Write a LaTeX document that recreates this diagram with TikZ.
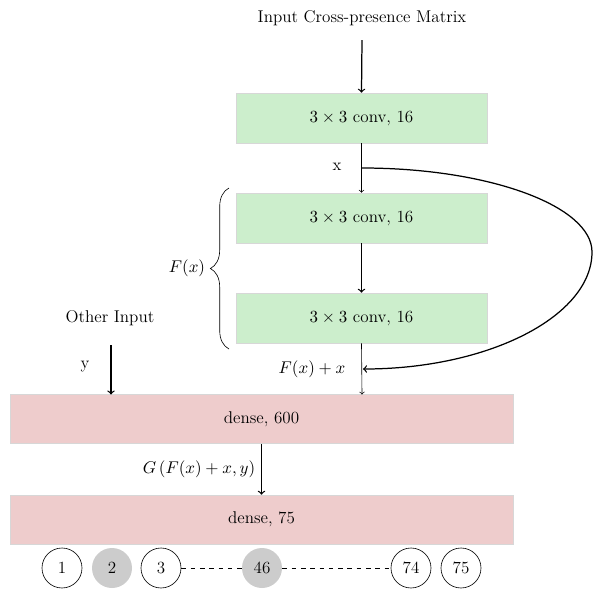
\documentclass[tikz,border=0pt]{standalone}
\usetikzlibrary{decorations.pathreplacing}
\definecolor{convgreen}{RGB}{204,238,204}
\definecolor{densered}{RGB}{238,204,204}
\definecolor{boxborder}{RGB}{215,215,215}
\definecolor{circgray}{RGB}{204,204,204}
\begin{document}
\begin{tikzpicture}[x=0.645pt,y=-0.645pt,
  every node/.style={font=\fontsize{11}{13}\selectfont},
  conv/.style={draw=boxborder,fill=convgreen,minimum width=251*0.645pt,minimum height=50*0.645pt,inner sep=0pt},
  dense/.style={draw=boxborder,fill=densered,minimum width=503*0.645pt,minimum height=49*0.645pt,inner sep=0pt},
  unit/.style={circle,draw,minimum size=40*0.645pt,inner sep=0pt},
  unitsel/.style={circle,fill=circgray,minimum size=40*0.645pt,inner sep=0pt},
  thickarrow/.style={->,line width=0.8pt},
  thinarrow/.style={->,line width=0.4pt},
  lbl/.style={inner sep=0pt}]
\useasboundingbox (0,0) rectangle (593,588);
\node[lbl] (title) at (362,18) {Input Cross-presence Matrix};
\node[conv] (c1) at (361.5,118) {$3\times3$ conv, 16};
\node[conv] (c2) at (361.5,218) {$3\times3$ conv, 16};
\node[conv] (c3) at (361.5,318) {$3\times3$ conv, 16};
\node[dense] (d1) at (261.5,419) {dense, 600};
\node[dense] (d2) at (261.5,519.5) {dense, 75};
\coordinate (ttop) at (362,40);
\draw[thickarrow] (ttop) -- (c1.north);
\draw[thinarrow] (c1.south) -- (c2.north);
\node[lbl] (xl) at (337,167) {x};
\draw[thickarrow] (c2.south) -- (c3.north);
\draw[thinarrow] (c3.south) -- (362,394.5);
\node[lbl] (fxl) at (312,369) {$F(x)+x$};
\coordinate (xs) at (362,168);
\coordinate (xm) at (592,252);
\coordinate (xe) at (363,369);
\draw[thickarrow] (xs) .. controls (489,168) and (592,206) .. (xm)
  .. controls (592,316) and (489,369) .. (xe);
\draw[decorate,decoration={brace,amplitude=12pt},line width=0.4pt] (229,349) -- (229,188);
\node[lbl] (fx) at (187,268) {$F(x)$};
\node[lbl] (oi) at (110,318) {Other Input};
\node[lbl] (yl) at (85,367) {y};
\coordinate (ytop) at (111,345);
\draw[thickarrow] (ytop) -- (111,394.5);
\draw[thickarrow] (d1.south) -- (d2.north);
\node[lbl] (gl) at (199,469) {$G\left(F(x)+x,y\right)$};
\node[unit] (u1) at (62,568) {1};
\node[unitsel] (u2) at (112,568) {2};
\node[unit] (u3) at (161,568) {3};
\node[unitsel] (u46) at (262,568) {46};
\node[unit] (u74) at (411,568) {74};
\node[unit] (u75) at (461,568) {75};
\draw[dashed,line width=0.4pt] (u3) -- (u46);
\draw[dashed,line width=0.4pt] (u46) -- (u74);
\end{tikzpicture}
\end{document}
